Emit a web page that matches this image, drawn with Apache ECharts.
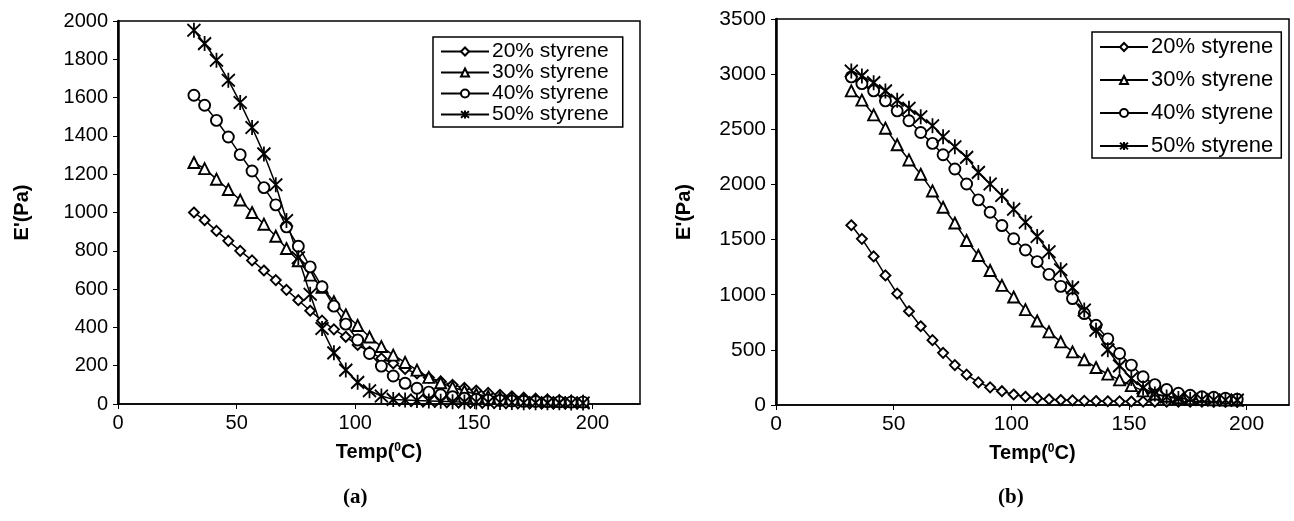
<!DOCTYPE html>
<html lang="en">
<head>
    <meta charset="UTF-8">
    <title>E' vs Temp</title>
    <script src="https://cdn.jsdelivr.net/npm/echarts@6/dist/echarts.min.js"></script>
    <style>
        body { margin: 0; background: #fff; }
    </style>
</head>
<body>
    <div id="main" style="width: 1294px; height: 521px"></div>
    <script>
        var myEcharts = echarts.init(document.getElementById('main'))

        var seriesNames = ['20% styrene', '30% styrene', '40% styrene', '50% styrene']

        // temperature of each reading (°C)
        var temps = [32, 36.5, 41.5, 46.5, 51.5, 56.5, 61.5, 66.5, 71, 76, 81, 86, 91, 96, 101, 106, 111,
            116, 121, 126, 131, 136, 141, 146, 151, 156, 161, 166, 171, 176, 181, 186, 191, 196]

        // (a)
        var left20 = [1000, 960, 904, 852, 800, 750, 697, 647, 596, 542, 487, 435, 390, 351, 308, 273, 238,
            212, 183, 160, 138, 118, 100, 84, 70, 58, 48, 40, 33, 28, 24, 20, 17, 15]
        var left30 = [1261, 1229, 1174, 1120, 1065, 1000, 939, 876, 812, 748, 673, 609, 534, 466, 410, 350, 300,
            255, 217, 177, 139, 111, 87, 68, 51, 40, 32, 26, 22, 19, 17, 15, 14, 13]
        var left40 = [1612, 1560, 1481, 1394, 1302, 1217, 1130, 1040, 925, 824, 716, 612, 511, 417, 334, 264, 198,
            146, 108, 82, 62, 48, 38, 30, 25, 21, 18, 16, 14, 13, 12, 11, 10, 10]
        var left50 = [1952, 1882, 1795, 1691, 1574, 1444, 1306, 1145, 958, 764, 573, 394, 267, 177, 113, 69, 42,
            24, 21, 18, 16, 14, 12, 11, 10, 9, 8, 8, 7, 7, 6, 6, 5, 5]

        // (b)
        var right20 = [1630, 1507, 1347, 1175, 1010, 850, 714, 588, 473, 362, 275, 205, 160, 125, 95, 75, 61,
            52, 45, 42, 38, 36, 34, 33, 32, 31, 30, 30, 30, 30, 30, 30, 30, 30]
        var right30 = [2848, 2764, 2631, 2510, 2360, 2222, 2092, 1941, 1793, 1650, 1492, 1356, 1220, 1085, 979, 865, 762,
            663, 572, 482, 410, 340, 280, 228, 176, 128, 100, 80, 66, 57, 52, 48, 46, 44]
        var right40 = [2975, 2914, 2848, 2758, 2667, 2577, 2471, 2372, 2269, 2140, 2004, 1860, 1748, 1627, 1507, 1405, 1300,
            1184, 1076, 965, 829, 723, 600, 467, 362, 256, 185, 140, 106, 88, 75, 70, 61, 52]
        var right50 = [3029, 2984, 2923, 2848, 2764, 2691, 2613, 2532, 2432, 2342, 2245, 2109, 2004, 1899, 1775, 1657, 1528,
            1390, 1227, 1064, 862, 678, 500, 355, 241, 155, 100, 72, 60, 52, 50, 46, 45, 44]

        var FONT = 'Liberation Sans, Arial, sans-serif'

        // excel-like markers: diamond, triangle, circle, asterisk
        var symbols = ['diamond', 'triangle', 'circle', 'path://M0,0L10,10M10,0L0,10M5,-1L5,11']
        var symbolSizes = [10, 11, 11, [13, 15]]

        function pairs(ys) {
            return temps.map(function (t, i) { return [t, ys[i]] })
        }

        function makeSeries(data, k, gi) {
            return {
                name: seriesNames[k],
                type: 'line',
                xAxisIndex: gi,
                yAxisIndex: gi,
                data: pairs(data),
                symbol: symbols[k],
                symbolSize: symbolSizes[k],
                showAllSymbol: true,
                lineStyle: { color: '#000', width: 1.5 },
                itemStyle: { color: '#fff', borderColor: '#000', borderWidth: 1.9 },
                emphasis: { disabled: true }
            }
        }

        function xAxisOf(gi, max, fs) {
            return {
                gridIndex: gi,
                type: 'value',
                min: 0, max: max, interval: 50,
                name: '{t|Temp(}{s|0}{t|C)}',
                nameLocation: 'middle',
                nameGap: 38,
                nameTextStyle: {
                    rich: {
                        t: { fontFamily: FONT, fontWeight: 'bold', fontSize: 20, color: '#000' },
                        s: { fontFamily: FONT, fontWeight: 'bold', fontSize: 12, color: '#000', padding: [0, 0, 9, 0] }
                    }
                },
                axisLine: { show: true, lineStyle: { color: '#000', width: 1.5 } },
                axisTick: { show: true, length: 5, lineStyle: { color: '#000' } },
                axisLabel: { color: '#000', fontFamily: FONT, fontSize: fs, margin: 9, showMaxLabel: false },
                splitLine: { show: false }
            }
        }

        function yAxisOf(gi, max, interval, gap, fs) {
            return {
                gridIndex: gi,
                type: 'value',
                min: 0, max: max, interval: interval,
                name: "E'(Pa)",
                nameLocation: 'middle',
                nameRotate: 90,
                nameGap: gap,
                nameTextStyle: { fontFamily: FONT, fontWeight: 'bold', fontSize: 20, color: '#000' },
                axisLine: { show: true, lineStyle: { color: '#000', width: 2.5 } },
                axisTick: { show: true, length: 5, lineStyle: { color: '#000' } },
                axisLabel: {
                    color: '#000', fontFamily: FONT, fontSize: fs, margin: 10,
                    formatter: function (v) { return String(v) }
                },
                splitLine: { show: false }
            }
        }

        function legendOf(left, top, gap, fs, pad) {
            return {
                data: seriesNames,
                orient: 'vertical',
                left: left, top: top,
                itemWidth: 48, itemHeight: 10, itemGap: gap,
                padding: pad,
                backgroundColor: '#fff',
                borderColor: '#000', borderWidth: 1.5,
                selectedMode: false,
                textStyle: { fontFamily: FONT, fontSize: fs, color: '#000', padding: [0, 0, 0, -2] }
            }
        }

        var option = {
            animation: false,
            backgroundColor: '#fff',
            grid: [
                { left: 118, top: 21, width: 522, height: 383, show: true, borderColor: '#000', borderWidth: 1.5 },
                { left: 776, top: 19, width: 513, height: 386, show: true, borderColor: '#000', borderWidth: 1.5 }
            ],
            xAxis: [xAxisOf(0, 220, 20), xAxisOf(1, 218, 21)],
            yAxis: [yAxisOf(0, 2000, 200, 86, 20), yAxisOf(1, 3500, 500, 82, 21)],
            legend: [
                legendOf(433, 37, 0, 21, [4, 14, 2, 7]),
                legendOf(1092, 32, 11, 22, [4, 8, 1, 7])
            ],
            series: [
                makeSeries(left20, 0, 0),
                makeSeries(left30, 1, 0),
                makeSeries(left40, 2, 0),
                makeSeries(left50, 3, 0),
                makeSeries(right20, 0, 1),
                makeSeries(right30, 1, 1),
                makeSeries(right40, 2, 1),
                makeSeries(right50, 3, 1)
            ],
            graphic: [
                { type: 'text', left: 343, top: 487, style: { text: '(a)', font: 'bold 21px "Liberation Serif", serif', fill: '#000' } },
                { type: 'text', left: 998, top: 487, style: { text: '(b)', font: 'bold 21px "Liberation Serif", serif', fill: '#000' } }
            ]
        }

        myEcharts.setOption(option)
    </script>
</body>
</html>
